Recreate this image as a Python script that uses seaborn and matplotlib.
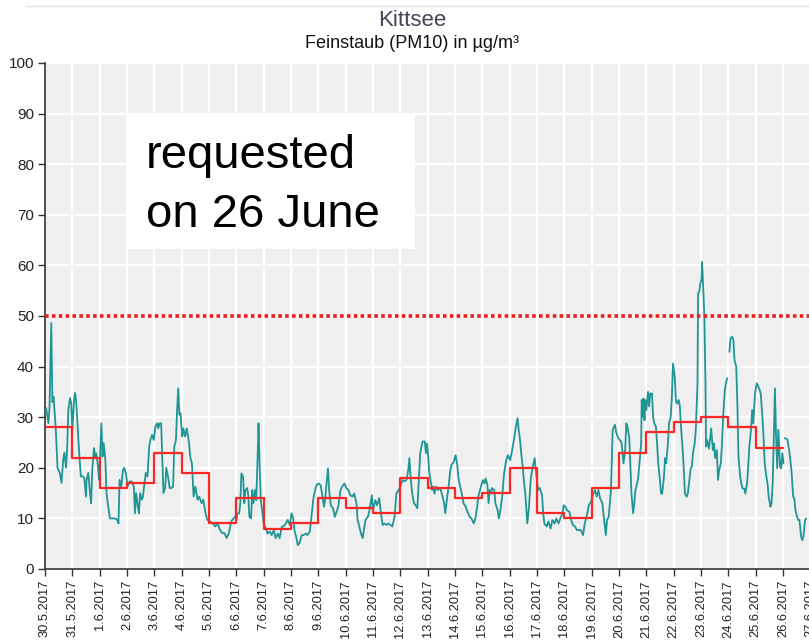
import numpy as np
import pandas as pd
import matplotlib
matplotlib.use("Agg")
import matplotlib.pyplot as plt
from matplotlib.patches import Rectangle
from matplotlib.lines import Line2D
import seaborn as sns

# ---------------------------------------------------------------------
# data (Kittsee, PM10, 30.5.-26.6.2017)
day_labels = ["30.5.2017", "31.5.2017", "1.6.2017", "2.6.2017", "3.6.2017",
              "4.6.2017", "5.6.2017", "6.6.2017", "7.6.2017", "8.6.2017",
              "9.6.2017", "10.6.2017", "11.6.2017", "12.6.2017", "13.6.2017",
              "14.6.2017", "15.6.2017", "16.6.2017", "17.6.2017", "18.6.2017",
              "19.6.2017", "20.6.2017", "21.6.2017", "22.6.2017", "23.6.2017",
              "24.6.2017", "25.6.2017", "26.6.2017", "27.6.2017"]

# daily means (red step line), one per day from 30.5. to 25.6.
daily_mean = [28, 22, 16, 17, 23, 19, 9, 14, 8, 9, 14, 12, 11, 18,
              16, 14, 15, 20, 11, 10, 16, 23, 27, 29, 30, 28, 24]

# half-hourly values (teal line): hours since 30.5.2017 00:00
hours = [
    0, 1, 3, 4, 5.5, 6.5, 7.5, 8.5, 9.5, 11, 13, 14.5, 16, 17, 18.5, 19.5, 20.5, 22, 23,
    24, 25.5, 26.5, 27.5, 29, 30, 31.5, 33, 34.5, 36, 36.5, 38, 39.5, 40.5, 41.5, 43, 44, 45, 46.5, 47.5,
    49.5, 50.5, 51.5, 53, 54, 55.5, 57, 59, 61.5, 63.5, 64.5, 65.5, 67, 68.5, 69.5, 71,
    72.5, 74.5, 76, 78, 79, 80, 81.5, 82.5, 83.5, 85, 86, 87, 88.5, 90, 91.5, 92.5, 94, 95.5,
    97, 98.5, 99.5, 100.5, 102, 103, 104, 105.5, 106.5, 108, 109.5, 111, 112.5, 113.5, 115, 116, 117, 118, 119,
    120.5, 121.5, 123, 124.5, 126.5, 127.5, 129, 130.5, 132, 134, 135.5, 137.5, 139, 141, 142.5,
    145, 147.5, 149.5, 151.5, 153.5, 155.5, 157.5, 159.5, 161.5, 163.5, 165.5, 167.5,
    168, 169, 170.5, 171.5, 172.5, 174, 175, 176, 177.5, 178.5, 179.5, 181, 182, 183, 184.5, 185.5, 187, 187.5, 188.5, 189.5, 191,
    192, 194, 195.5, 197.5, 199, 201, 202.5, 204.5, 206, 208, 209.5, 211.5, 213, 215,
    216.5, 218, 219, 220.5, 222, 223.5, 225.5, 227, 229, 230.5, 232.5, 234, 235.5, 236.5, 238.5,
    240, 242, 243.5, 245, 246, 247, 248.5, 249.5, 251, 253, 254.5, 256, 257.5, 259.5, 261, 263,
    264.5, 266.5, 268, 270, 271.5, 273.5, 274.5, 276, 277.5, 279, 280, 281.5, 283.5, 285, 287,
    288, 290, 291.5, 293.5, 295, 296.5, 298, 300, 301.5, 303.5, 305, 307, 308.5, 310.5,
    312, 314, 315.5, 317.5, 319, 320, 321, 322.5, 324, 325.5, 327, 328, 329.5, 331.5, 333.5, 334.5, 335.5,
    336.5, 337.5, 338.5, 340, 341, 342, 343.5, 345, 347, 348.5, 350.5, 351.5, 352.5, 354, 355, 356, 357, 359,
    360.5, 362, 363, 364, 366, 367.5, 369.5, 371, 373, 374.5, 376.5, 378, 379.5, 380.5, 382.5,
    384.5, 386, 387, 388.5, 389.5, 390.5, 391.5, 392.5, 394.5, 395.5, 397.5, 398.5, 399.5, 401.5, 403, 405, 406.5,
    408.5, 410, 412, 413.5, 415, 416, 417, 418.5, 419.5, 420.5, 422, 423.5, 425, 426.5, 428, 430, 431,
    433, 434.5, 436.5, 437.5, 438.5, 440.5, 442, 444, 445.5, 447.5, 449, 451, 452.5, 454.5, 455.5,
    457, 458.5, 460.5, 462, 463.5, 465.5, 467, 469, 470.5, 472.5, 474, 476, 477.5, 479.5,
    481, 483, 484.5, 486, 487.5, 489.5, 490.5, 492.5, 493.5, 495, 497, 498.5, 500.5, 501.5, 503,
    504.5, 506, 507, 508, 509.5, 510.5, 511.5, 513, 514, 515, 516.5, 517.5, 518.5, 520, 521, 522, 523.5, 524, 525, 525.5, 526.5, 527,
    528, 529.5, 530.5, 531.5, 533, 534, 535, 536.5, 537.5, 538.5, 540, 541, 542, 543.5, 544.5, 545.5, 547, 548, 549.5, 550.5,
    551.5, 553, 554, 555, 556.5, 557.5, 558.5, 560, 561, 562, 563.5, 564.5, 565.5, 567, 568, 569, 570.5, 571.5, 573, 573.5, 574.5, 575.5,
    576.5, 577, 578, 579, 580, 580.5, 581.5, 583, 584, 585, 586.5, 587.5, 588.5, 590, 591, 592, 593.5, 594.5, 595.5, 597, 598, 599, 600,
    601, 602, 603.5, 604.5, 605.5, 607, 608, 609, 610.5, 611.5, 612.5, 614, 615, 616.5, 617.5, 618.5, 620, 621, 622, 623.5,
    625, 626.5, 627.5, 628.5, 630, 631, 632, 633.5, 634.5, 635.5, 637, 638, 639, 640, 641, 642, 643, 644, 645.5, 646.5, 647.5, 648.5, 649,
    649.5, 651, 652, 653.5, 654.5, 655.5, 657, 658, 659, 660.5, 661.5, 662.5, 664, 665, 666, 667.5, 668.5,
]
pm10 = [
    30.8, 31.8, 28.8, 32, 48.6, 33, 34, 30.8, 27.5, 20, 19, 17, 21.6, 23, 20, 24.2, 31.5, 33.8, 32.8,
    27.5, 33.4, 34.8, 32.8, 26.8, 22.9, 18.3, 18.3, 18, 14.3, 17.6, 19, 15, 13, 19.6, 23.9, 22.2, 22.9, 20.3, 17.6,
    28.8, 22.2, 24.9, 21.6, 15, 12.4, 10, 10, 10, 9.7, 9, 17.6, 16.3, 19.6, 20, 19,
    16.3, 17.3, 17.3, 16.3, 11, 15, 12.4, 11, 15, 13.7, 14.3, 16.3, 19, 18.3, 24.2, 25.5, 26.5, 25.5,
    28.2, 28.8, 27.8, 28.8, 28.8, 21.6, 15, 16, 20, 18.3, 16, 16, 16.3, 24.2, 25.5, 31.5, 35.7, 30.5, 30.8,
    26.2, 27.8, 26.2, 27.8, 24.9, 22.2, 20.9, 14.3, 16.3, 13.7, 14.3, 13, 13.7, 11, 9.7,
    9.4, 9, 8.4, 9, 7.8, 7.1, 7.1, 6.1, 7.1, 9.4, 10, 10.5,
    9.7, 11, 11, 13, 18.9, 18.2, 13, 15.6, 16, 14.6, 10.3, 10, 15.6, 13, 15.6, 13.6, 24.2, 28.8, 20.2, 13.6, 11,
    9, 8, 7, 7.4, 6.7, 7.7, 6.1, 7, 6.1, 8.4, 8.4, 9, 9.7, 8.7,
    11, 10, 7.7, 6.4, 4.7, 5.1, 6.7, 6.7, 7, 6.7, 7.4, 10.3, 13.6, 14.9, 16.6,
    16.9, 16.6, 14.6, 12.3, 13.6, 16.3, 19.9, 15.6, 12.6, 12, 10.3, 11.3, 12.3, 15.6, 16.3, 16.9,
    16, 15.6, 14.6, 14.3, 14.9, 13, 9.7, 8.4, 7, 6.1, 7.7, 9.7, 10.3, 11.6, 14.6,
    11.6, 13.6, 12.6, 14, 11, 8.7, 9, 8.7, 9, 8.7, 8.4, 10.3, 14.9, 15.6,
    16.3, 17.6, 17.3, 17.6, 19.6, 21.9, 18.2, 14.9, 13, 12.6, 12, 16.3, 22.9, 25.2, 25.2, 22.9, 24.8,
    22.2, 18.9, 17.6, 15.6, 16.3, 14.9, 16.3, 15.6, 16, 14.9, 13, 11, 13, 15.6, 17.6, 19.6, 20.6, 21.2,
    22.5, 20.6, 18.2, 16.9, 14.9, 13, 12.3, 11.3, 10.3, 10, 9, 10, 12.3, 14.3, 16,
    17.6, 16.9, 17.9, 16.6, 13, 15.6, 14.9, 16, 15.6, 13, 11.6, 10, 11, 14.3, 18.6, 21.5, 22.5,
    21.5, 23.2, 25.8, 28.1, 29.8, 27.5, 25.8, 22.2, 20.2, 17.6, 14.3, 9, 12.3, 17.6, 19.9, 21.9, 19.6,
    15.6, 16, 14.6, 11, 9, 8.4, 9.4, 8, 9.7, 9, 10, 9, 10, 11, 12.6,
    12.3, 11.6, 11.3, 9.7, 8.7, 8.4, 7.7, 7.7, 7.7, 6.7, 9, 10.7, 12.6, 13.3,
    14.6, 15.6, 14.3, 15.6, 13.9, 13, 10.7, 6.7, 9.7, 10.3, 15.6, 27.5, 28.5, 27.1, 26.1,
    25.5, 25.2, 23.5, 20.9, 23.5, 28.8, 28.1, 26.1, 20.9, 14.9, 11, 13, 15.6, 16.9, 18.2, 20.9, 24.8, 33.4, 30.1, 33.7, 29.4, 33.4,
    31.4, 35, 32.1, 34.7, 34.7, 30.1, 28.8, 28.1, 24.8, 20.9, 17.6, 14.9, 14.9, 18.2, 21.9, 20.9, 24.8, 28.8, 30.1, 34.1,
    40.6, 38, 33.4, 32.7, 33.4, 32.1, 28.1, 23.5, 19.5, 14.9, 14.3, 14.9, 16.9, 19.9, 20.2, 22.9, 24.8, 27.5, 36.7, 54.5, 54.8, 56.5,
    57.1, 60.7, 55.8, 49.9, 36.7, 24.2, 25.5, 23.8, 25.5, 27.8, 23.5, 24.8, 21.9, 23.5, 17.6, 19.5, 20.9, 24.8, 30.1, 35.4, 36.7, 37.7, np.nan,
    42.9, 45.6, 45.9, 45.3, 41.3, 40, 32.7, 22.2, 18.2, 16.9, 15.9, 15.9, 14.9, 16.9, 20.2, 24.2, 27.5, 31.4, 28.8, 34.7,
    36.7, 36, 35.4, 34.7, 30.1, 26.1, 20.9, 18.2, 16.9, 14.3, 12.3, 13, 16.9, 26.1, 35.7, 26.1, 19.9, 27.5, 20.2, 19.9, 22.9, 20.9, np.nan,
    25.8, 25.8, 25.5, 23.5, 21.5, 19.5, 14.3, 14, 11.6, 10.3, 9.7, 9.7, 6.4, 5.7, 6.4, 9.7, 10,
]

LIMIT = 50
TEAL = "#1f9595"
RED = "#ff2626"

# ---------------------------------------------------------------------
sns.set_theme(style="whitegrid")
plt.rcParams["font.family"] = ["Liberation Sans", "DejaVu Sans"]

half = pd.DataFrame({"day": np.array(hours) / 24.0, "pm10": pm10})
half["seg"] = half["pm10"].isna().cumsum()
half = half.dropna()

steps = pd.DataFrame({"day": np.arange(len(daily_mean) + 1),
                      "mean": daily_mean + daily_mean[-1:]})

W, H = 809, 643
px_day = 27.33
fig = plt.figure(figsize=(W / 100, H / 100), dpi=100)
ax = fig.add_axes([45 / W, 1 - 569 / H, 29 * px_day / W, 506 / H])
ax.set_facecolor("#efefef")

sns.lineplot(data=half, x="day", y="pm10", units="seg", estimator=None,
             color=TEAL, lw=1.3, ax=ax, zorder=3)
sns.lineplot(data=steps, x="day", y="mean", drawstyle="steps-post",
             color=RED, lw=1.6, ax=ax, zorder=4)
ax.axhline(LIMIT, color="#ee1c1c", lw=2.6, linestyle=(0, (1, 0.9)), zorder=4)

ax.set_xlim(0, 29)
ax.set_ylim(0, 100)
ax.set_xticks(range(len(day_labels)))
ax.set_xticklabels(day_labels, rotation=90, fontsize=9.3)
ax.set_yticks(range(0, 101, 10))
ax.tick_params(axis="y", labelsize=11)
ax.tick_params(length=5, width=1, color="#333333", labelcolor="#222222",
               left=True, bottom=True, pad=3)
ax.grid(True, color="white", lw=1.6)
ax.set_xlabel("")
ax.set_ylabel("")
for s in ["top", "right"]:
    ax.spines[s].set_visible(False)
for s in ["left", "bottom"]:
    ax.spines[s].set_color("#333333")
    ax.spines[s].set_linewidth(1.2)

# header
fig.add_artist(Line2D([25 / W, 1], [1 - 6 / H] * 2, color="#e2e2e2", lw=1))
fig.text(412 / W, 1 - 20 / H, "Kittsee", ha="center", va="center",
         fontsize=16, color="#444455")
fig.text(412 / W, 1 - 43 / H, "Feinstaub (PM10) in µg/m³", ha="center",
         va="center", fontsize=13, color="#111111")

# note box
fig.add_artist(Rectangle((127 / W, 1 - 249 / H), 288 / W, 136 / H,
                         transform=fig.transFigure, facecolor="white",
                         edgecolor="none", zorder=5))
fig.text(146 / W, 1 - 168 / H, "requested", fontsize=34, va="baseline",
         color="black", zorder=6)
fig.text(146 / W, 1 - 227 / H, "on 26 June", fontsize=34, va="baseline",
         color="black", zorder=6)

fig.savefig("out.png", dpi=100)
